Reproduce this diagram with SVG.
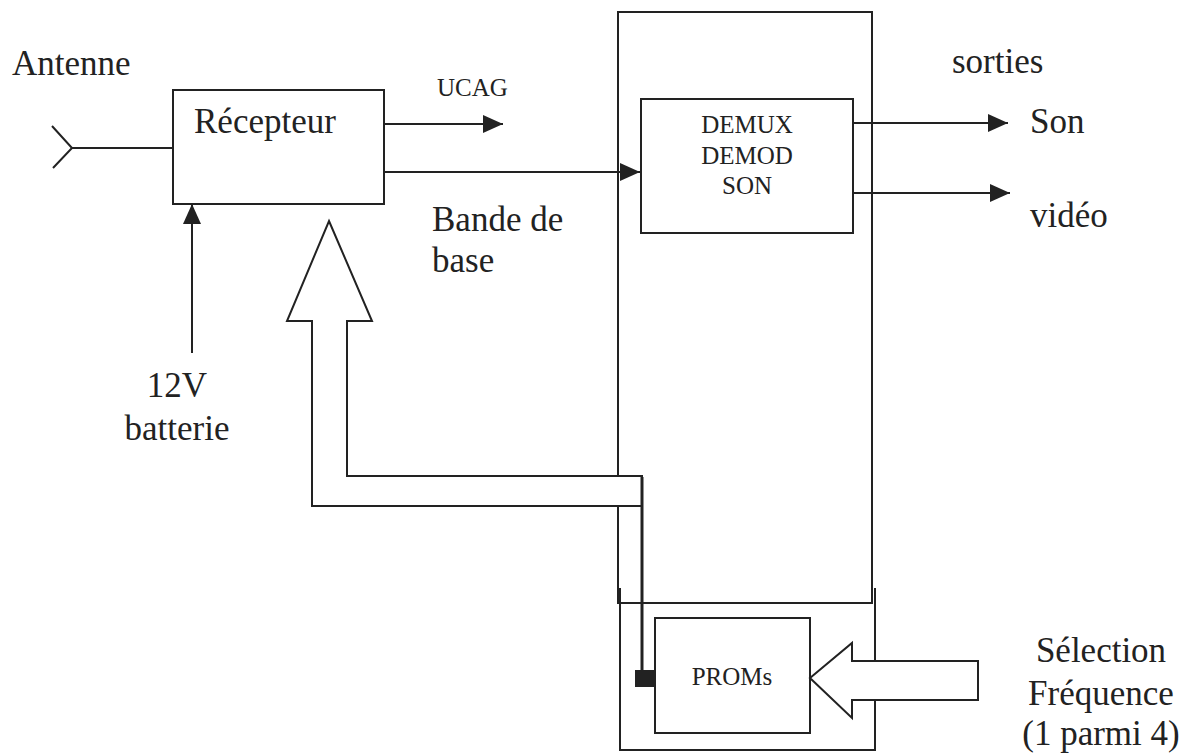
<svg xmlns="http://www.w3.org/2000/svg" width="1193" height="755" viewBox="0 0 1193 755">
  <style>
    .ln { fill: none; stroke: #222; stroke-width: 2; }
    .box { fill: #fff; stroke: #222; stroke-width: 2; }
  </style>
  <defs>
    <marker id="ahL" viewBox="0 0 10 10" refX="10" refY="5" markerWidth="20" markerHeight="18" markerUnits="userSpaceOnUse" orient="auto" preserveAspectRatio="none">
      <path d="M0,0 L10,5 L0,10 Z" fill="#222"/>
    </marker>
  </defs>

  <rect width="1193" height="755" fill="#fff"/>

  <g id="outer-block">
    <rect class="box" x="618" y="12" width="254" height="591"/>
    <path class="ln" d="M620,588 V750 H875 V588"/>
  </g>

  <g id="antenna">
    <path class="ln" d="M52,126 L72,148 L53,168 M72,148 H173"/>
    <text x="12" y="75" fill="#222" style="font-family: 'Liberation Serif', serif; font-size: 35px">Antenne</text>
  </g>

  <g id="recepteur">
    <rect class="box" x="173" y="90" width="211" height="114"/>
    <text x="194" y="133" fill="#222" style="font-family: 'Liberation Serif', serif; font-size: 35px">Récepteur</text>
  </g>

  <g id="demux">
    <rect class="box" x="641" y="99" width="212" height="134"/>
    <text x="747" y="133" text-anchor="middle" fill="#222" style="font-family: 'Liberation Serif', serif; font-size: 25px">DEMUX</text>
    <text x="747" y="164" text-anchor="middle" fill="#222" style="font-family: 'Liberation Serif', serif; font-size: 25px">DEMOD</text>
    <text x="747" y="194" text-anchor="middle" fill="#222" style="font-family: 'Liberation Serif', serif; font-size: 25px">SON</text>
  </g>

  <g id="proms">
    <rect class="box" x="655" y="618" width="155" height="115"/>
    <text x="732" y="685" text-anchor="middle" fill="#222" style="font-family: 'Liberation Serif', serif; font-size: 25px">PROMs</text>
  </g>

  <g id="connectors">
    <line class="ln" x1="384" y1="124" x2="503" y2="124" marker-end="url(#ahL)"/>
    <line class="ln" x1="384" y1="172" x2="640" y2="172" marker-end="url(#ahL)"/>
    <line class="ln" x1="853" y1="123" x2="1008" y2="123" marker-end="url(#ahL)"/>
    <line class="ln" x1="853" y1="193" x2="1010" y2="193" marker-end="url(#ahL)"/>
    <line class="ln" x1="192" y1="353" x2="192" y2="204" marker-end="url(#ahL)"/>
    <path class="box" d="M329,221 L372,321 H347 V476 H642 V506 H312 V321 H287 Z"/>
    <line x1="642" y1="477" x2="642" y2="676" stroke="#222" stroke-width="3"/>
    <rect x="635" y="670" width="20" height="17" fill="#222"/>
    <path class="box" d="M810,678 L852,643 V661 H978 V700 H852 V718 Z"/>
  </g>

  <g id="labels">
    <text x="437" y="96" fill="#222" style="font-family: 'Liberation Serif', serif; font-size: 25px">UCAG</text>
    <text x="432" y="231" fill="#222" style="font-family: 'Liberation Serif', serif; font-size: 35px">Bande de</text>
    <text x="432" y="272" fill="#222" style="font-family: 'Liberation Serif', serif; font-size: 35px">base</text>
    <text x="952" y="73" fill="#222" style="font-family: 'Liberation Serif', serif; font-size: 35px">sorties</text>
    <text x="1030" y="133" fill="#222" style="font-family: 'Liberation Serif', serif; font-size: 35px">Son</text>
    <text x="1030" y="227" fill="#222" style="font-family: 'Liberation Serif', serif; font-size: 35px">vidéo</text>
    <text x="177" y="397" text-anchor="middle" fill="#222" style="font-family: 'Liberation Serif', serif; font-size: 35px">12V</text>
    <text x="177" y="440" text-anchor="middle" fill="#222" style="font-family: 'Liberation Serif', serif; font-size: 35px">batterie</text>
    <text x="1101" y="662" text-anchor="middle" fill="#222" style="font-family: 'Liberation Serif', serif; font-size: 35px">Sélection</text>
    <text x="1101" y="705" text-anchor="middle" fill="#222" style="font-family: 'Liberation Serif', serif; font-size: 35px">Fréquence</text>
    <text x="1101" y="745" text-anchor="middle" fill="#222" style="font-family: 'Liberation Serif', serif; font-size: 35px">(1 parmi 4)</text>
  </g>
</svg>
